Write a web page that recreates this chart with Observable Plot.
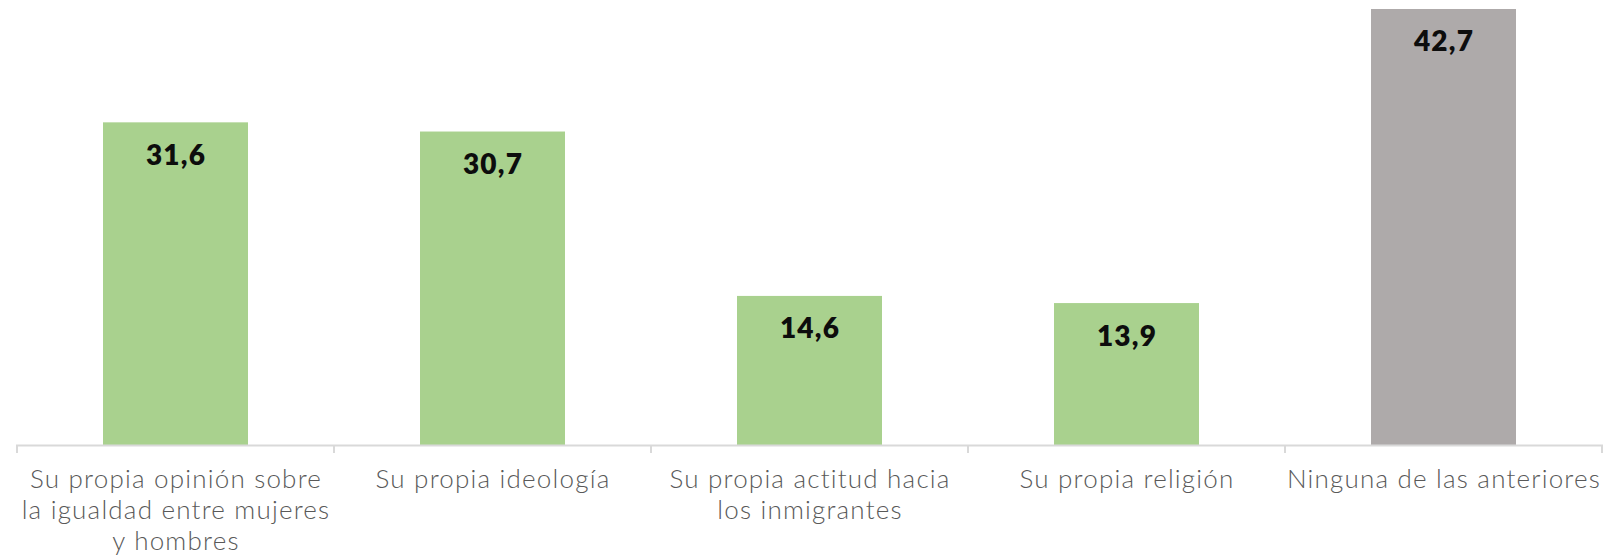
<!DOCTYPE html>
<html>
<head>
<meta charset="utf-8">
<script src="https://cdn.jsdelivr.net/npm/d3@7"></script>
<script src="https://cdn.jsdelivr.net/npm/@observablehq/plot@0.6"></script>
<style>
  body { margin: 0; background: #fff; }
  #chart svg { display: block; letter-spacing: 1.2px; }
</style>
</head>
<body>
<div id="chart"></div>
<script>
const categories = [
  "Su propia opinión sobre\nla igualdad entre mujeres\ny hombres",
  "Su propia ideología",
  "Su propia actitud hacia\nlos inmigrantes",
  "Su propia religión",
  "Ninguna de las anteriores"
];
const values = [31.6, 30.7, 14.6, 13.9, 42.7];
const colors = ["#A9D18E", "#A9D18E", "#A9D18E", "#A9D18E", "#AEAAAA"];

const data = categories.map((c, i) => ({cat: c, value: values[i], color: colors[i]}));
const fmt = v => v.toFixed(1).replace(".", ",");

function categoryTicks(index, scales, values, dimensions) {
  const x = scales.x, y = scales.y;
  const step = x.step(), bw = x.bandwidth();
  const y0 = y(0);
  const g = d3.create("svg:g").attr("stroke", "#D9D9D9").attr("stroke-width", 2);
  const bounds = categories.map(c => x(c) + bw / 2 - step / 2);
  bounds.push(x(categories[categories.length - 1]) + bw / 2 + step / 2);
  for (const b of bounds) {
    g.append("line").attr("x1", b).attr("x2", b).attr("y1", y0).attr("y2", y0 + 8);
  }
  return g.node();
}

const plot = Plot.plot({
  width: 1622,
  height: 555,
  marginTop: 9,
  marginBottom: 110,
  marginLeft: 16,
  marginRight: 19,
  x: {domain: categories, paddingInner: 0.543, paddingOuter: 0.2715, axis: null},
  y: {domain: [0, 42.7], axis: null},
  marks: [
    Plot.barY(data, {x: "cat", y: "value", fill: "color"}),
    Plot.ruleY([0], {stroke: "#D9D9D9", strokeWidth: 2}),
    categoryTicks,
    Plot.text(data, {
      x: "cat", y: "value", text: d => fmt(d.value),
      dy: 33, fontSize: 28, fontWeight: 800, fill: "#0d0d0d",
      fontFamily: "Lato"
    }),
    Plot.text(data, {
      x: "cat", y: 0, text: "cat",
      dy: 20, lineAnchor: "top", lineHeight: 1.2,
      fontSize: 26, fontWeight: 300, fill: "#595959",
      fontFamily: "Lato"
    })
  ]
});
document.getElementById("chart").append(plot);
</script>
</body>
</html>
